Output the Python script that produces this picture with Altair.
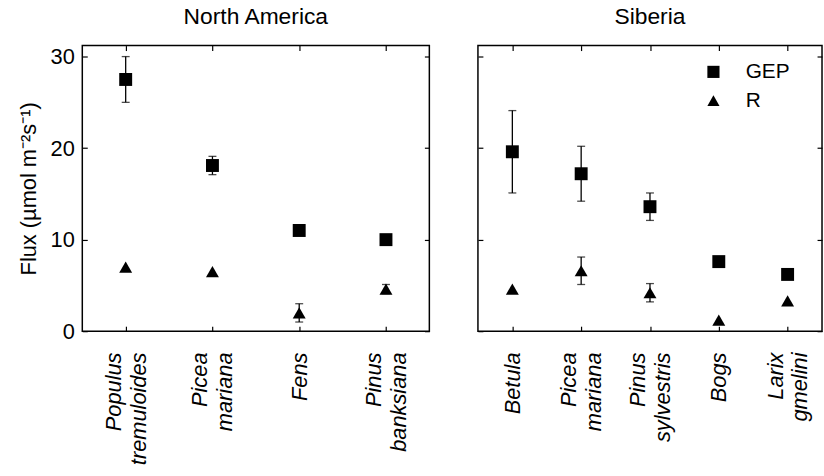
import altair as alt
import pandas as pd

# Site labels ("|" marks a line break in the axis label)
na_sites = ["Populus|tremuloides", "Picea|mariana", "Fens", "Pinus|banksiana"]
na_gep = [27.5, 18.1, 11.0, 10.0]
na_gep_err = [2.5, 1.0, 0.0, 0.0]
na_r = [7.0, 6.5, 2.0, 4.6]
na_r_err = [0.0, 0.0, 1.0, 0.5]

sib_sites = ["Betula", "Picea|mariana", "Pinus|sylvestris", "Bogs", "Larix|gmelini"]
sib_gep = [19.6, 17.2, 13.6, 7.6, 6.2]
sib_gep_err = [4.5, 3.0, 1.5, 0.0, 0.0]
sib_r = [4.6, 6.6, 4.2, 1.2, 3.3]
sib_r_err = [0.0, 1.5, 1.0, 0.0, 0.0]

series_names = ["GEP", "R"]
y_ticks = [0, 10, 20, 30]
FONT = "Liberation Sans"
TICK = 5
LINE_H = 25


def long_table(sites, gep, gep_err, r, r_err):
    rows = []
    for s, v, e in zip(sites, gep, gep_err):
        rows.append({"site": s, "series": "GEP", "value": v, "err": e})
    for s, v, e in zip(sites, r, r_err):
        rows.append({"site": s, "series": "R", "value": v, "err": e})
    df = pd.DataFrame(rows)
    df["lo"] = df["value"] - df["err"]
    df["hi"] = df["value"] + df["err"]
    return df


shape_scale = alt.Scale(domain=series_names, range=["square", "triangle-up"])
# legend drawn inside the Siberia panel, positioned relative to its plot box
shape_legend = alt.Legend(
    orient="none", legendX=227, legendY=16, title=None,
    labelFont=FONT, labelFontSize=21, labelColor="black",
    symbolSize=150, symbolFillColor="black", symbolStrokeWidth=0,
    labelOffset=22, rowPadding=7, padding=0,
)


def panel(sites, gep, gep_err, r, r_err, title, width, first, legend):
    df = long_table(sites, gep, gep_err, r, r_err)
    base = alt.Chart(df)
    x_scale = alt.Scale(domain=sites, type="point", padding=0.5)
    y_scale = alt.Scale(domain=[0, 31.2], nice=False, zero=False)

    x_bottom = alt.Axis(
        orient="bottom", labelAngle=-90, labelFontStyle="italic",
        labelExpr="split(datum.label, '|')", labelLineHeight=LINE_H,
        # two-line labels are shifted so the pair sits centred on its tick
        labelOffset={"condition": {"test": "indexof(datum.label, '|') >= 0",
                                   "value": -LINE_H / 2}, "value": 0},
        labelPadding=21, offset=-TICK, tickSize=TICK, domain=False,
        grid=False, title=None, labelFontSize=22,
    )
    y_left = alt.Axis(
        orient="left", values=y_ticks, labels=first, offset=-TICK,
        tickSize=TICK, domain=False, grid=False, labelPadding=8,
        title="Flux (µmol m⁻²s⁻¹)" if first else None,
    )

    points = base.mark_point(filled=True, size=170, opacity=1, color="black").encode(
        x=alt.X("site:N", scale=x_scale, axis=x_bottom, sort=None),
        y=alt.Y("value:Q", scale=y_scale, axis=y_left),
        shape=alt.Shape("series:N", scale=shape_scale, legend=legend),
    )
    bars = base.transform_filter("datum.err > 0").mark_rule(
        color="black", strokeWidth=1.3
    ).encode(
        x=alt.X("site:N", scale=x_scale, axis=None, sort=None),
        y=alt.Y("lo:Q", scale=y_scale, axis=None),
        y2="hi:Q",
    )
    cap_lo = base.transform_filter("datum.err > 0").mark_tick(
        color="black", thickness=1.3, size=8
    ).encode(
        x=alt.X("site:N", scale=x_scale, axis=None, sort=None),
        y=alt.Y("lo:Q", scale=y_scale, axis=None),
    )
    cap_hi = cap_lo.encode(y=alt.Y("hi:Q", scale=y_scale, axis=None))

    # mirrored inward ticks on the top and right edges of the box
    frame = base.mark_point(opacity=0).encode(
        x=alt.X("site:N", scale=x_scale, sort=None, axis=alt.Axis(
            orient="top", labels=False, offset=-TICK, tickSize=TICK,
            domain=False, grid=False, title=None)),
        y=alt.Y("value:Q", scale=y_scale, axis=alt.Axis(
            orient="right", values=y_ticks, labels=False, offset=-TICK,
            tickSize=TICK, domain=False, grid=False, title=None)),
    )

    return alt.layer(frame, bars, cap_lo, cap_hi, points).resolve_axis(
        x="independent", y="independent"
    ).properties(
        width=width, height=288,
        title=alt.TitleParams(title, font=FONT, fontSize=23, fontWeight="normal",
                              color="black", anchor="middle", offset=16),
    )


left = panel(na_sites, na_gep, na_gep_err, na_r, na_r_err, "North America", 350, True, None)
right = panel(sib_sites, sib_gep, sib_gep_err, sib_r, sib_r_err, "Siberia", 347, False, shape_legend)

chart = alt.hconcat(left, right, spacing=45).resolve_scale(
    x="independent", shape="independent"
).properties(
    padding={"left": 16, "top": 3, "right": 0, "bottom": 0},
    background="white",
).configure_view(
    stroke="black", strokeWidth=1.5
).configure_axis(
    labelFont=FONT, labelFontSize=22, labelColor="black",
    titleFont=FONT, titleFontSize=22, titleFontWeight="normal", titleColor="black",
    titlePadding=10, tickColor="black", tickWidth=1.2,
)

chart.save("out.html", embed_options={"renderer": "svg", "actions": False})
